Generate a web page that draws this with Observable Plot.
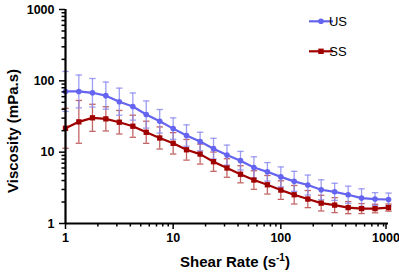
<!DOCTYPE html>
<html>
<head>
<meta charset="utf-8">
<script src="https://cdn.jsdelivr.net/npm/d3@7"></script>
<script src="https://cdn.jsdelivr.net/npm/@observablehq/plot@0.6"></script>
<style>
  html, body { margin: 0; padding: 0; background: #fff; }
  #chart svg { display: block; }
</style>
</head>
<body>
<div id="chart"></div>
<script>
// Shear rates (1/s), 8 points per decade
const shearRate = [1, 1.33, 1.78, 2.37, 3.16, 4.22, 5.62, 7.5, 10, 13.3, 17.8, 23.7, 31.6, 42.2, 56.2, 75, 100, 133, 178, 237, 316, 422, 562, 750, 1000];

// Mean viscosity (mPa.s)
const usViscosity = [71, 71, 68, 62, 51, 43.6, 33.7, 27.1, 21.4, 17.1, 14.1, 11.2, 9.1, 7.6, 6.1, 5.3, 4.5, 3.9, 3.46, 2.97, 2.78, 2.53, 2.27, 2.2, 2.17];
const ssViscosity = [21.6, 26.6, 30.3, 29.3, 26.3, 23.1, 19.0, 15.8, 13.3, 10.8, 9.4, 7.35, 6.0, 4.9, 4.07, 3.49, 2.94, 2.53, 2.2, 1.93, 1.81, 1.67, 1.62, 1.62, 1.67];

// Error bar half-width, in decades (log10 units)
const usSpread = [0.28, 0.23, 0.2, 0.19, 0.19, 0.19, 0.19, 0.165, 0.15, 0.15, 0.13, 0.145, 0.14, 0.13, 0.15, 0.13, 0.14, 0.14, 0.14, 0.14, 0.12, 0.12, 0.13, 0.09, 0.09];
const ssSpread = [0.28, 0.30, 0.19, 0.17, 0.165, 0.155, 0.155, 0.155, 0.15, 0.145, 0.14, 0.135, 0.13, 0.12, 0.13, 0.13, 0.13, 0.13, 0.12, 0.11, 0.105, 0.085, 0.07, 0.06, 0.05];

const majorTicks = [1, 10, 100, 1000];
const minorTicks = [2, 3, 4, 5, 6, 7, 8, 9, 20, 30, 40, 50, 60, 70, 80, 90, 200, 300, 400, 500, 600, 700, 800, 900];

const seriesNames = ["US", "SS"];
const lineColor = { US: "#6464f0", SS: "#a00000" };
const barColor = { US: "#8c8cf2", SS: "#b84a4a" };

function rows(name, values, spread) {
  return shearRate.map((x, i) => ({
    series: name,
    x,
    y: values[i],
    lo: values[i] / Math.pow(10, spread[i]),
    hi: values[i] * Math.pow(10, spread[i])
  }));
}
const us = rows("US", usViscosity, usSpread);
const ss = rows("SS", ssViscosity, ssSpread);

// horizontal cap for the error bars
const capSymbol = {
  draw(context, size) {
    const w = Math.sqrt(size) / 2;
    context.moveTo(-w, 0);
    context.lineTo(w, 0);
  }
};

function errorMarks(data, name) {
  return [
    Plot.ruleX(data, { x: "x", y1: "lo", y2: "hi", stroke: barColor[name], strokeWidth: 1.3, strokeOpacity: 0.85 }),
    Plot.dot(data, { x: "x", y: "hi", symbol: capSymbol, r: 3.6, stroke: barColor[name], strokeWidth: 1.3, strokeOpacity: 0.85, fill: "none" }),
    Plot.dot(data, { x: "x", y: "lo", symbol: capSymbol, r: 3.6, stroke: barColor[name], strokeWidth: 1.3, strokeOpacity: 0.85, fill: "none" })
  ];
}

const font = "'Liberation Sans', Arial, Helvetica, sans-serif";
const tickLabel = { fontSize: 12.5, fontWeight: "bold", tickFormat: d => String(d), label: null };

const chart = Plot.plot({
  width: 399,
  height: 272,
  marginLeft: 65,
  marginRight: 11,
  marginTop: 9,
  marginBottom: 49,
  style: { fontFamily: font, background: "#fff", color: "#000" },
  x: { type: "log", domain: [1, 1000] },
  y: { type: "log", domain: [1, 1000] },
  marks: [
    ...errorMarks(ss, "SS"),
    ...errorMarks(us, "US"),
    Plot.line(ss, { x: "x", y: "y", stroke: lineColor.SS, strokeWidth: 2.2 }),
    Plot.line(us, { x: "x", y: "y", stroke: lineColor.US, strokeWidth: 2.2 }),
    Plot.dot(ss, { x: "x", y: "y", symbol: "square", r: 3, fill: lineColor.SS }),
    Plot.dot(us, { x: "x", y: "y", symbol: "circle", r: 2.8, fill: lineColor.US }),
    Plot.axisY({ ticks: minorTicks, tickSize: 3.5, tickFormat: () => "", strokeWidth: 1.5, label: null }),
    Plot.axisY({ ticks: majorTicks, tickSize: 6, tickPadding: 5, strokeWidth: 1.5, ...tickLabel }),
    Plot.axisX({ ticks: minorTicks, tickSize: 3.5, tickFormat: () => "", strokeWidth: 1.5, label: null }),
    Plot.axisX({ ticks: majorTicks.slice(0, 3), tickSize: 6, tickPadding: 4, strokeWidth: 1.5, ...tickLabel }),
    // last label sits against the right edge
    Plot.axisX({ ticks: majorTicks.slice(3), tickSize: 6, tickPadding: 4, strokeWidth: 1.5, dx: -2.5, ...tickLabel }),
    Plot.ruleX([1], { stroke: "#000", strokeWidth: 2.2 }),
    Plot.ruleY([1], { stroke: "#000", strokeWidth: 2.2 })
  ]
});

document.getElementById("chart").appendChild(chart);

const svg = d3.select(chart);

// axis titles
svg.append("text")
  .attr("transform", "translate(18,131) rotate(-90)")
  .attr("text-anchor", "middle")
  .attr("font-family", font)
  .attr("font-size", 15)
  .attr("font-weight", "bold")
  .attr("fill", "#000")
  .text("Viscosity (mPa.s)");

const xt = svg.append("text")
  .attr("x", 235)
  .attr("y", 267)
  .attr("text-anchor", "middle")
  .attr("font-family", font)
  .attr("font-size", 15)
  .attr("font-weight", "bold")
  .attr("fill", "#000");
xt.append("tspan").text("Shear Rate (s");
xt.append("tspan").attr("dy", -6).attr("font-size", 10).text("-1");
xt.append("tspan").attr("dy", 6).text(")");

// legend
const legend = svg.append("g").attr("font-family", font).attr("font-size", 13);
seriesNames.forEach((name, i) => {
  const y = 21.3 + i * 30;
  legend.append("line").attr("x1", 309).attr("x2", 333).attr("y1", y).attr("y2", y)
    .attr("stroke", lineColor[name]).attr("stroke-width", 2.2);
  if (name === "US") {
    legend.append("circle").attr("cx", 321).attr("cy", y).attr("r", 2.8).attr("fill", lineColor[name]);
  } else {
    legend.append("rect").attr("x", 318.3).attr("y", y - 2.7).attr("width", 5.4).attr("height", 5.4).attr("fill", lineColor[name]);
  }
  legend.append("text").attr("x", 338).attr("y", y).attr("dy", "0.36em").attr("fill", "#000").text(name);
});
</script>
</body>
</html>
